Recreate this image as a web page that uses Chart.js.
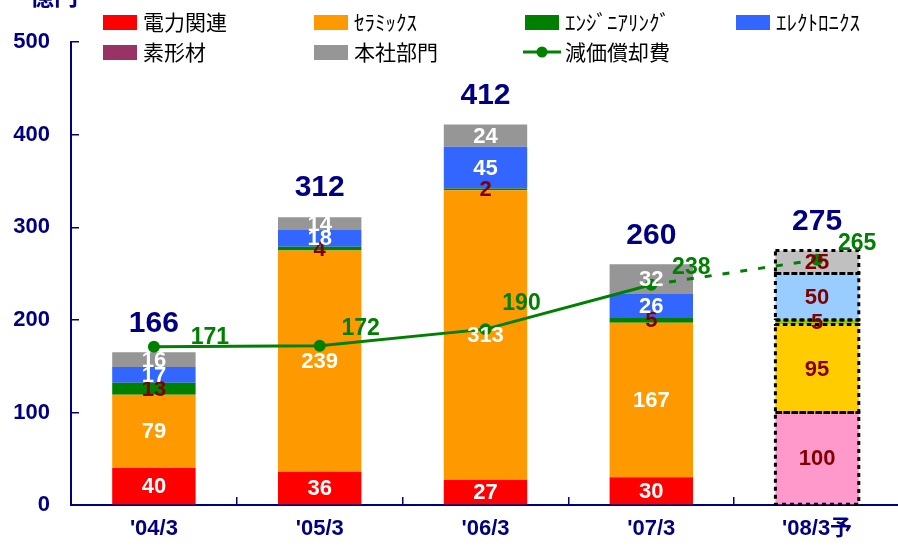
<!DOCTYPE html>
<html>
  <head>
    <meta charset="utf-8" />
    <style>
      * {
        margin: 0;
        padding: 0;
      }
      body {
        overflow: hidden;
        background: #ffffff;
      }
      .chartBox {
        width: 898px;
        height: 550px;
        overflow: hidden;
      }
    </style>
  </head>
  <body>
    <div class="chartBox">
      <canvas id="myChart" width="906" height="550"></canvas>
    </div>
    <script src="https://cdn.jsdelivr.net/npm/chart.js/dist/chart.umd.min.js"></script>
    <script>
      // data (億円)
      const years = ["'04/3", "'05/3", "'06/3", "'07/3", "'08/3予"];
      const power = [40, 36, 27, 30, 100];
      const ceramics = [79, 239, 313, 167, 95];
      const engineering = [13, 4, 2, 5, 5];
      const electronics = [17, 18, 45, 26, 50];
      const materials = [0, 0, 0, 0, 0];
      const headOffice = [16, 14, 24, 32, 25];
      const totals = [166, 312, 412, 260, 275];
      const depreciation = [171, 172, 190, 238, 265];
      const yTicks = [0, 100, 200, 300, 400, 500];

      const NAVY = "#000080";
      const DARKRED = "#800000";
      const GREEN = "#008000";
      const NUM_FONT = "'Liberation Sans', Arial, 'Noto Sans CJK JP', sans-serif";
      const JP_FONT = "'Noto Sans CJK JP', sans-serif";
      const FORECAST = 4; // last column is the forecast

      function barSet(label, data, color, forecastColor, textColor) {
        return {
          type: "bar",
          label: label,
          data: data,
          backgroundColor: data.map((v, i) => (i === FORECAST ? forecastColor : color)),
          legendColor: color,
          textColor: textColor,
          borderWidth: 0,
          categoryPercentage: 1,
          barPercentage: 0.503,
          order: 1,
        };
      }

      const data = {
        labels: years,
        datasets: [
          barSet("電力関連", power, "#FF0000", "#FF99CC", "#ffffff"),
          barSet("ｾﾗﾐｯｸｽ", ceramics, "#FF9900", "#FFCC00", "#ffffff"),
          barSet("ｴﾝｼﾞﾆｱﾘﾝｸﾞ", engineering, "#008000", "#99CC00", DARKRED),
          barSet("ｴﾚｸﾄﾛﾆｸｽ", electronics, "#3366FF", "#99CCFF", "#ffffff"),
          barSet("素形材", materials, "#993366", "#993366", "#ffffff"),
          barSet("本社部門", headOffice, "#969696", "#C0C0C0", "#ffffff"),
          {
            type: "line",
            label: "減価償却費",
            data: depreciation,
            stack: "dep",
            order: 0,
            borderColor: GREEN,
            backgroundColor: GREEN,
            legendColor: GREEN,
            borderWidth: 3,
            pointRadius: 6,
            pointHoverRadius: 6,
            pointBorderWidth: 0,
            pointBackgroundColor: GREEN,
            segment: {
              borderDash: (c) => (c.p1DataIndex === FORECAST ? [7, 11] : undefined),
            },
          },
        ],
      };

      // value labels, totals, forecast dashed boxes
      const labelPlugin = {
        id: "valueLabels",
        afterDatasetsDraw(chart, args, opts) {
          const ctx = chart.ctx;
          ctx.save();
          const bars = [];
          chart.data.datasets.forEach((ds, di) => {
            if (ds.type === "bar") bars.push([ds, chart.getDatasetMeta(di)]);
          });

          // dashed outline on forecast segments
          ctx.strokeStyle = "#000000";
          ctx.lineWidth = 3;
          ctx.setLineDash([4, 4]);
          bars.forEach(([ds, meta]) => {
            const el = meta.data[FORECAST];
            if (!ds.data[FORECAST]) return;
            ctx.strokeRect(el.x - el.width / 2, el.y, el.width, el.base - el.y);
          });
          ctx.setLineDash([]);

          ctx.textAlign = "center";
          ctx.textBaseline = "middle";
          ctx.font = "bold 22px " + NUM_FONT;
          bars.forEach(([ds, meta]) => {
            meta.data.forEach((el, i) => {
              const v = ds.data[i];
              if (!v) return;
              ctx.fillStyle = i === FORECAST ? DARKRED : ds.textColor;
              ctx.fillText(v, el.x, (el.y + el.base) / 2 + 1);
            });
          });

          // totals above the bars
          const topMeta = bars[bars.length - 1][1];
          ctx.font = "bold 30px " + NUM_FONT;
          ctx.fillStyle = NAVY;
          totals.forEach((t, i) => {
            const el = topMeta.data[i];
            ctx.fillText(t, el.x, el.y - 29);
          });

          // depreciation labels
          const lineIdx = chart.data.datasets.findIndex((d) => d.type === "line");
          const lineMeta = chart.getDatasetMeta(lineIdx);
          ctx.font = "bold 23px " + NUM_FONT;
          ctx.fillStyle = GREEN;
          lineMeta.data.forEach((pt, i) => {
            const off = opts.lineOffsets[i];
            ctx.fillText(depreciation[i], pt.x + off[0], pt.y + off[1]);
          });
          ctx.restore();
        },
      };

      // legend in two rows of four columns + unit
      const legendPlugin = {
        id: "gridLegend",
        afterDraw(chart, args, opts) {
          const ctx = chart.ctx;
          ctx.save();
          ctx.textBaseline = "middle";
          ctx.textAlign = "left";
          chart.data.datasets.forEach((ds, i) => {
            const x = opts.cols[i % 4];
            const y = opts.rows[Math.floor(i / 4)];
            ctx.fillStyle = ds.legendColor;
            if (ds.type === "line") {
              ctx.strokeStyle = ds.legendColor;
              ctx.lineWidth = 3;
              ctx.beginPath();
              ctx.moveTo(x - 2, y);
              ctx.lineTo(x + 36, y);
              ctx.stroke();
              ctx.beginPath();
              ctx.arc(x + 17, y, 5.5, 0, Math.PI * 2);
              ctx.fill();
            } else {
              ctx.fillRect(x, y - 7, 34, 15);
            }
            ctx.fillStyle = "#000000";
            ctx.font = "21px " + JP_FONT;
            ctx.fillText(ds.label, x + 40, y);
          });

          // unit, cut off at the top edge as in the source
          ctx.fillStyle = NAVY;
          ctx.font = "bold 24px " + JP_FONT;
          ctx.textBaseline = "bottom";
          ctx.fillText("億円", 30, 8);
          ctx.restore();
        },
      };

      // config
      const config = {
        type: "bar",
        data,
        options: {
          responsive: false,
          animation: false,
          events: [],
          layout: { padding: { top: 40, left: 0, right: 0, bottom: 0 } },
          plugins: {
            legend: { display: false },
            tooltip: { enabled: false },
            valueLabels: {
              lineOffsets: [[56, -9], [41, -17], [36, -25], [40, -17], [40, -16]],
            },
            gridLegend: { cols: [103, 314, 525, 736], rows: [22, 52] },
          },
          scales: {
            x: {
              stacked: true,
              afterFit: (s) => {
                s.height = 45;
              },
              border: { color: NAVY, width: 2 },
              grid: { drawOnChartArea: false, tickLength: -8, color: NAVY, lineWidth: 1.5 },
              ticks: {
                padding: 19,
                color: NAVY,
                font: { family: NUM_FONT, size: 22, weight: "bold" },
              },
            },
            y: {
              stacked: true,
              min: 0,
              max: 500,
              afterBuildTicks: (s) => {
                s.ticks = yTicks.map((v) => ({ value: v }));
              },
              afterFit: (s) => {
                s.width = 71;
              },
              border: { color: NAVY, width: 2 },
              grid: { drawOnChartArea: false, tickLength: -8, color: NAVY, lineWidth: 1.5 },
              ticks: {
                padding: 29,
                color: NAVY,
                font: { family: NUM_FONT, size: 22, weight: "bold" },
              },
            },
          },
        },
        plugins: [labelPlugin, legendPlugin],
      };

      // render init block
      const myChart = new Chart(document.getElementById("myChart"), config);
    </script>
  </body>
</html>
